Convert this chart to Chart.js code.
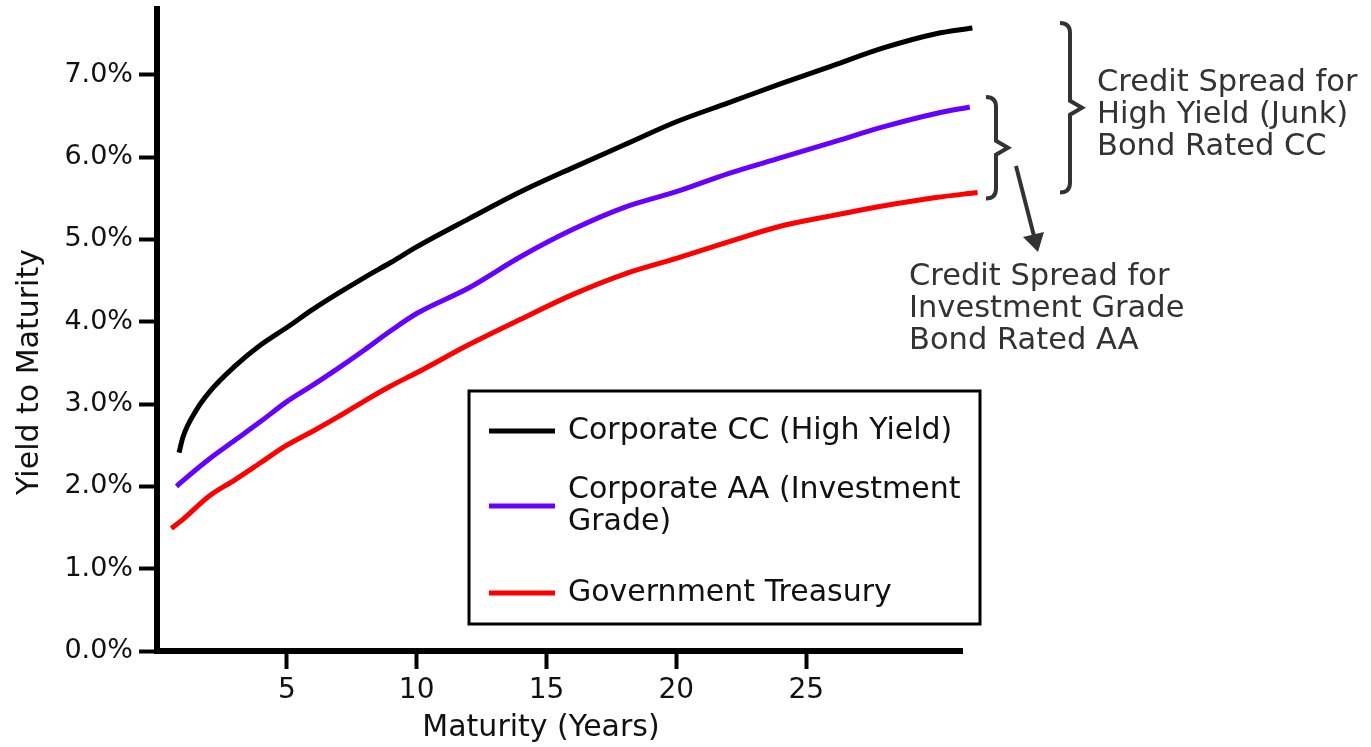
<!DOCTYPE html>
<html>
<head>
<meta charset="utf-8">
<script src="https://cdn.jsdelivr.net/npm/chart.js@4.4.0/dist/chart.umd.min.js"></script>
<style>
  html, body { margin: 0; padding: 0; background: #fff; }
  #wrap { width: 1371px; height: 747px; position: relative; }
</style>
</head>
<body>
<div id="wrap"><canvas id="yieldChart" width="1371" height="747"></canvas></div>
<script>
// Maturity (years) and yield (%), one pair of arrays per curve
const ccYears = [0.85, 1, 1.5, 2, 3, 4, 5, 6, 7, 8, 9, 10, 12, 14, 16, 18, 20, 22, 24, 26, 28, 30, 31.4];
const ccYield = [2.41, 2.6, 2.92, 3.14, 3.46, 3.72, 3.93, 4.15, 4.35, 4.54, 4.72, 4.91, 5.25, 5.58, 5.87, 6.15, 6.43, 6.66, 6.89, 7.11, 7.33, 7.5, 7.57];

const aaYears = [0.75, 1, 2, 3, 4, 5, 6, 7, 8, 9, 10, 12, 14, 16, 18, 20, 22, 24, 26, 28, 30, 31.3];
const aaYield = [2.0, 2.07, 2.33, 2.56, 2.79, 3.03, 3.23, 3.44, 3.66, 3.89, 4.1, 4.41, 4.79, 5.12, 5.39, 5.58, 5.8, 5.99, 6.18, 6.37, 6.53, 6.61];

const tsyYears = [0.55, 1, 2, 3, 4, 5, 6, 7, 8, 9, 10, 12, 14, 16, 18, 20, 22, 24, 26, 28, 30, 31.6];
const tsyYield = [1.49, 1.6, 1.88, 2.08, 2.29, 2.5, 2.67, 2.85, 3.04, 3.22, 3.38, 3.72, 4.03, 4.33, 4.58, 4.77, 4.97, 5.16, 5.29, 5.41, 5.51, 5.57];

const seriesNames = ["Corporate CC (High Yield)", "Corporate AA (Investment Grade)", "Government Treasury"];
const seriesColors = ["#000000", "#6600ff", "#ff0000"];

const xTickValues = [5, 10, 15, 20, 25];
const yTickValues = [0, 1, 2, 3, 4, 5, 6, 7];

const xTitle = "Maturity (Years)";
const yTitle = "Yield to Maturity";
const junkNote = ["Credit Spread for", "High Yield (Junk)", "Bond Rated CC"];
const gradeNote = ["Credit Spread for", "Investment Grade", "Bond Rated AA"];

const FONT = '"DejaVu Sans", Verdana, sans-serif';
const INK = "#333333";

function toPoints(xs, ys) {
  return xs.map((x, i) => ({ x: x, y: ys[i] }));
}

// split a label into lines no wider than maxWidth
function wrapText(ctx, text, maxWidth) {
  const words = text.split(" ");
  let lines = [];
  let line = "";
  words.forEach((w) => {
    const test = line ? line + " " + w : w;
    if (ctx.measureText(test).width > maxWidth && line) {
      lines.push(line);
      line = w;
    } else {
      line = test;
    }
  });
  if (line) lines.push(line);
  return lines;
}

function drawBrace(ctx, x, top, bottom) {
  const mid = (top + bottom) / 2;
  const v = x + 10;
  ctx.beginPath();
  ctx.moveTo(x, top);
  ctx.quadraticCurveTo(v, top, v, top + 10);
  ctx.lineTo(v, mid - 7);
  ctx.lineTo(v + 12, mid);
  ctx.lineTo(v, mid + 7);
  ctx.lineTo(v, bottom - 10);
  ctx.quadraticCurveTo(v, bottom, x, bottom);
  ctx.stroke();
}

const overlayPlugin = {
  id: "overlay",
  afterDraw(chart) {
    const ctx = chart.ctx;
    const area = chart.chartArea;
    const ys = chart.scales.y;
    ctx.save();

    // axis titles
    ctx.fillStyle = "#111";
    ctx.font = "30px " + FONT;
    ctx.textAlign = "center";
    ctx.textBaseline = "middle";
    ctx.fillText(xTitle, 541, 728);
    ctx.save();
    ctx.translate(30, 372);
    ctx.rotate(-Math.PI / 2);
    ctx.fillText(yTitle, 0, 0);
    ctx.restore();

    // legend box
    const lx = 469, ly = 391, lw = 511, lh = 233;
    ctx.lineWidth = 3;
    ctx.strokeStyle = "#000";
    ctx.strokeRect(lx, ly, lw, lh);
    ctx.textAlign = "left";
    ctx.font = "30px " + FONT;
    const rows = [431, 506, 593];
    chart.data.datasets.forEach((ds, i) => {
      const lines = wrapText(ctx, ds.label, 400);
      const cy = rows[i];
      ctx.strokeStyle = ds.borderColor;
      ctx.lineWidth = 5;
      ctx.beginPath();
      ctx.moveTo(489, cy);
      ctx.lineTo(555, cy);
      ctx.stroke();
      ctx.fillStyle = "#111";
      const lineH = 32;
      const y0 = cy - (lines.length - 1) * lineH / 2;
      lines.forEach((t, j) => ctx.fillText(t, 568, y0 + j * lineH));
    });

    // braces and arrow, hung off the curve ends
    const ccEnd = ys.getPixelForValue(ccYield[ccYield.length - 1]);
    const aaEnd = ys.getPixelForValue(aaYield[aaYield.length - 1]);
    const tsyEnd = ys.getPixelForValue(tsyYield[tsyYield.length - 1]);
    ctx.strokeStyle = INK;
    ctx.fillStyle = INK;
    ctx.lineWidth = 4;
    drawBrace(ctx, area.right + 98, ccEnd - 5, tsyEnd);
    drawBrace(ctx, area.right + 24, aaEnd - 10, tsyEnd + 6);

    ctx.beginPath();
    ctx.moveTo(1016, 166);
    ctx.lineTo(1034, 236);
    ctx.stroke();
    ctx.beginPath();
    ctx.moveTo(1038, 252);
    ctx.lineTo(1044, 232);
    ctx.lineTo(1023, 237);
    ctx.closePath();
    ctx.fill();

    // notes
    ctx.font = "30.5px " + FONT;
    ctx.textBaseline = "middle";
    junkNote.forEach((t, j) => ctx.fillText(t, 1097, 83 + j * 32));
    gradeNote.forEach((t, j) => ctx.fillText(t, 909, 277 + j * 32));

    ctx.restore();
  },
};

const datasets = [
  { label: seriesNames[0], data: toPoints(ccYears, ccYield), borderColor: seriesColors[0] },
  { label: seriesNames[1], data: toPoints(aaYears, aaYield), borderColor: seriesColors[1] },
  { label: seriesNames[2], data: toPoints(tsyYears, tsyYield), borderColor: seriesColors[2] },
].map((d) => Object.assign(d, {
  borderWidth: 5,
  pointRadius: 0,
  fill: false,
  cubicInterpolationMode: "monotone",
  clip: false,
}));

new Chart(document.getElementById("yieldChart"), {
  type: "line",
  data: { datasets: datasets },
  options: {
    responsive: false,
    animation: false,
    layout: { padding: { top: 9, right: 409, left: 0, bottom: 0 } },
    plugins: {
      legend: { display: false },
      tooltip: { enabled: false },
    },
    scales: {
      x: {
        type: "linear",
        min: 0,
        max: 31,
        afterFit: (scale) => { scale.height = 96; },
        afterBuildTicks: (scale) => { scale.ticks = xTickValues.map((v) => ({ value: v })); },
        border: { color: "#000", width: 6 },
        grid: { drawOnChartArea: false, tickLength: 18, tickWidth: 4, tickColor: "#000" },
        ticks: {
          color: "#111",
          padding: 5,
          font: { family: FONT, size: 28 },
          callback: (v) => String(v),
        },
      },
      y: {
        type: "linear",
        min: 0,
        max: 7.8,
        afterFit: (scale) => {
          scale.width = 157;
          scale.paddingTop = 0;
          scale.paddingBottom = 0;
        },
        afterBuildTicks: (scale) => { scale.ticks = yTickValues.map((v) => ({ value: v })); },
        border: { color: "#000", width: 6 },
        grid: { drawOnChartArea: false, tickLength: 18, tickWidth: 4, tickColor: "#000" },
        ticks: {
          color: "#111",
          padding: 6,
          font: { family: FONT, size: 27 },
          callback: (v) => v.toFixed(1) + "%",
        },
      },
    },
  },
  plugins: [overlayPlugin],
});
</script>
</body>
</html>
